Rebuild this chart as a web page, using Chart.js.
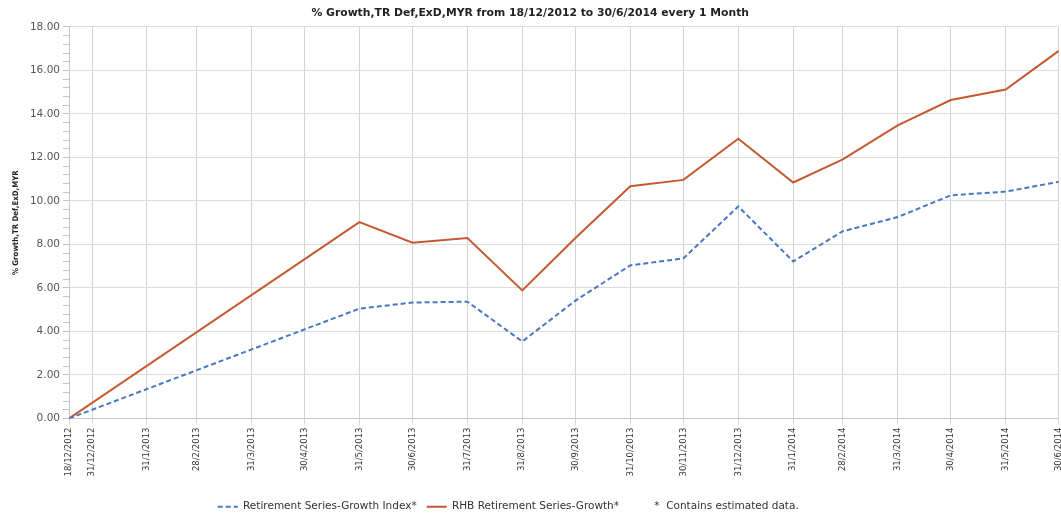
<!DOCTYPE html>
<html lang="en">
<head>
    <meta charset="UTF-8">
    <title>% Growth, RHB Retirement Series</title>
    <script src="https://cdn.jsdelivr.net/npm/chart.js"></script>
    <style>
        html, body { margin: 0; padding: 0; background: #fff; overflow: hidden; }
        .chart-container { position: relative; width: 1072px; height: 522px; }
    </style>
</head>
<body>
    <div class="chart-container">
        <canvas id="growthChart"></canvas>
    </div>

    <script>
        // month-end dates on the x axis (first one is the start date)
        var dates = ['18/12/2012', '31/12/2012', '31/1/2013', '28/2/2013', '31/3/2013', '30/4/2013',
                     '31/5/2013', '30/6/2013', '31/7/2013', '31/8/2013', '30/9/2013', '31/10/2013',
                     '30/11/2013', '31/12/2013', '31/1/2014', '28/2/2014', '31/3/2014', '30/4/2014',
                     '31/5/2014', '30/6/2014'];

        // % growth values, null = no value for that month (line spans the gap)
        var indexGrowth = [0, null, null, null, null, null,
                           5.05, 5.33, 5.37, 3.54, 5.42, 7.04,
                           7.36, 9.75, 7.22, 8.61, 9.26, 10.26,
                           10.43, 10.88];
        var rhbGrowth = [0, null, null, null, null, null,
                         9.03, 8.08, 8.30, 5.89, 8.30, 10.68,
                         10.97, 12.86, 10.85, 11.91, 13.48, 14.64,
                         15.12, 16.90];

        var seriesNames = ['Retirement Series-Growth Index*', 'RHB Retirement Series-Growth*'];
        var noteText = '*  Contains estimated data.';

        var yMin = 0, yMax = 18, yMajorStep = 2, yMinorStep = 0.4;

        // days since the first date
        function toDay(s) {
            var p = s.split('/').map(Number);
            return Date.UTC(p[2], p[1] - 1, p[0]) / 86400000;
        }
        var day0 = toDay(dates[0]);
        var xDays = dates.map(function (d) { return toDay(d) - day0; });

        function points(values) {
            return values.map(function (v, i) { return { x: xDays[i], y: v }; });
        }

        function isMajor(v) {
            var r = v / yMajorStep;
            return Math.abs(r - Math.round(r)) < 1e-6;
        }

        // the legend sits a bit left of centre in the original
        var legendShift = {
            id: 'legendShift',
            afterLayout: function (chart) {
                chart.legend.left -= 22;
                chart.legend.right -= 22;
            }
        };

        var ctx = document.getElementById('growthChart').getContext('2d');

        var growthChart = new Chart(ctx, {
            type: 'line',
            data: {
                datasets: [{
                    label: seriesNames[0],
                    data: points(indexGrowth),
                    borderColor: '#4a78c0',
                    backgroundColor: '#4a78c0',
                    borderWidth: 2,
                    borderDash: [5, 3],
                    pointRadius: 0,
                    pointStyle: 'line',
                    spanGaps: true,
                    tension: 0
                }, {
                    label: seriesNames[1],
                    data: points(rhbGrowth),
                    borderColor: '#c55a32',
                    backgroundColor: '#c55a32',
                    borderWidth: 2,
                    pointRadius: 0,
                    pointStyle: 'line',
                    spanGaps: true,
                    tension: 0
                }]
            },
            options: {
                responsive: true,
                maintainAspectRatio: false,
                animation: false,
                layout: { padding: { left: 0, right: 11.5, top: 0, bottom: 0 } },
                plugins: {
                    title: {
                        display: true,
                        text: '% Growth,TR Def,ExD,MYR from ' + dates[0] + ' to ' + dates[dates.length - 1] + ' every 1 Month',
                        color: '#222',
                        font: { family: 'DejaVu Sans', size: 10.8, weight: 'bold' },
                        padding: { top: 6.5, bottom: 7.5 }
                    },
                    legend: {
                        position: 'bottom',
                        labels: {
                            usePointStyle: true,
                            pointStyleWidth: 20,
                            padding: 10,
                            color: '#333',
                            font: { family: 'DejaVu Sans', size: 10.5 },
                            generateLabels: function (chart) {
                                var items = Chart.defaults.plugins.legend.labels.generateLabels(chart);
                                items.forEach(function (it) {
                                    var ds = chart.data.datasets[it.datasetIndex];
                                    it.pointStyle = 'line';
                                    it.lineDash = ds.borderDash || [];
                                    it.lineWidth = ds.borderWidth;
                                    it.strokeStyle = ds.borderColor;
                                });
                                items.push({
                                    text: noteText,
                                    fillStyle: 'rgba(0,0,0,0)',
                                    strokeStyle: 'rgba(0,0,0,0)',
                                    lineWidth: 0,
                                    pointStyle: 'line',
                                    hidden: false
                                });
                                return items;
                            }
                        }
                    },
                    tooltip: { enabled: false }
                },
                scales: {
                    x: {
                        type: 'linear',
                        min: xDays[0],
                        max: xDays[xDays.length - 1],
                        afterBuildTicks: function (scale) {
                            scale.ticks = xDays.map(function (v) { return { value: v }; });
                        },
                        afterFit: function (scale) { scale.height = 73; },
                        ticks: {
                            autoSkip: false,
                            minRotation: 90,
                            maxRotation: 90,
                            padding: 3,
                            color: '#333',
                            font: { family: 'DejaVu Sans', size: 8.5 },
                            callback: function (value, index) { return dates[index]; }
                        },
                        grid: { color: '#d3d3d3', tickLength: 6, tickColor: '#d3d3d3' },
                        border: { color: '#c8c8c8' }
                    },
                    y: {
                        min: yMin,
                        max: yMax,
                        afterFit: function (scale) { scale.width = 69; },
                        ticks: {
                            stepSize: yMinorStep,
                            autoSkip: false,
                            padding: 3,
                            color: '#555',
                            font: { family: 'DejaVu Sans', size: 10.5 },
                            callback: function (value) { return isMajor(value) ? value.toFixed(2) : ''; }
                        },
                        grid: {
                            color: function (c) { return isMajor(c.tick.value) ? '#dcdcdc' : 'rgba(0,0,0,0)'; },
                            tickLength: 6,
                            tickColor: '#c4c4c4'
                        },
                        border: { color: '#c8c8c8' },
                        title: {
                            display: true,
                            text: '% Growth,TR Def,ExD,MYR',
                            color: '#222',
                            font: { family: "'DejaVu Sans Condensed', 'Liberation Sans'", size: 7.8, weight: 'bold' },
                            padding: { top: 11.5, bottom: 4 }
                        }
                    }
                }
            },
            plugins: [legendShift]
        });
    </script>
</body>
</html>
